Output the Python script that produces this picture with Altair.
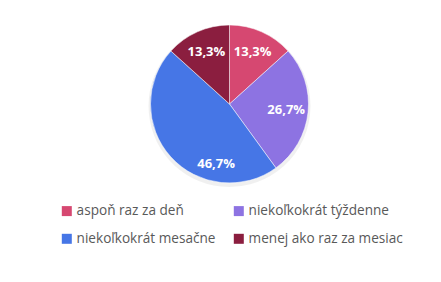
import altair as alt
import pandas as pd

categories = ["aspoň raz za deň", "niekoľkokrát týždenne", "niekoľkokrát mesačne", "menej ako raz za mesiac"]
values = [13.3, 26.7, 46.7, 13.3]
labels = ["13,3%", "26,7%", "46,7%", "13,3%"]
colors = ["#D64871", "#8D73E2", "#4676E6", "#8B1E3F"]
legend_order = ["aspoň raz za deň", "niekoľkokrát mesačne", "niekoľkokrát týždenne", "menej ako raz za mesiac"]

df = pd.DataFrame({"cat": categories, "val": values, "lab": labels, "ord": list(range(len(categories)))})

cx, cy = 229.5, 104
theta_scale = alt.Scale(domain=[0, 100], range=[0, 6.283185307179586])

base = alt.Chart(df).transform_window(
    cum="sum(val)", sort=[alt.SortField("ord")]
).transform_calculate(
    start="datum.cum - datum.val", mid="datum.cum - datum.val/2"
)

shadow = base.mark_arc(outerRadius=81, color="#000000", opacity=0.06).encode(
    theta=alt.Theta("start:Q", scale=theta_scale), theta2="cum:Q",
    x=alt.value(cx), y=alt.value(cy + 2)
)

arcs = base.mark_arc(outerRadius=79, stroke="white", strokeWidth=0.5).encode(
    theta=alt.Theta("start:Q", scale=theta_scale), theta2="cum:Q",
    x=alt.value(cx), y=alt.value(cy),
    color=alt.Color(
        "cat:N",
        scale=alt.Scale(domain=categories, range=colors),
        legend=alt.Legend(
            title=None, orient="none", legendX=60, legendY=204, columns=2,
            values=legend_order,
            symbolType="square", symbolSize=100, symbolStrokeWidth=0,
            labelFont="Open Sans", labelFontSize=13.6, labelColor="#595959",
            columnPadding=16, rowPadding=13, symbolOffset=0, labelOffset=3,
            labelLimit=300,
        ),
    ),
)

text_main = base.transform_filter(alt.datum.cat != "niekoľkokrát mesačne").mark_text(
    radius=57, font="Open Sans", fontSize=13, fontWeight="bold", color="white"
).encode(
    theta=alt.Theta("mid:Q", scale=theta_scale),
    x=alt.value(cx), y=alt.value(cy), text="lab:N"
)

text_blue = base.transform_filter(alt.datum.cat == "niekoľkokrát mesačne").mark_text(
    radius=57, font="Open Sans", fontSize=13, fontWeight="bold", color="white", dx=29, dy=22
).encode(
    theta=alt.Theta("mid:Q", scale=theta_scale),
    x=alt.value(cx), y=alt.value(cy), text="lab:N"
)

chart = alt.layer(shadow, arcs, text_main, text_blue).properties(
    width=441, height=282, padding=0, autosize=alt.AutoSizeParams(type="none")
).configure_view(stroke=None)

chart.save("out.html", embed_options={"renderer": "svg", "actions": False})
